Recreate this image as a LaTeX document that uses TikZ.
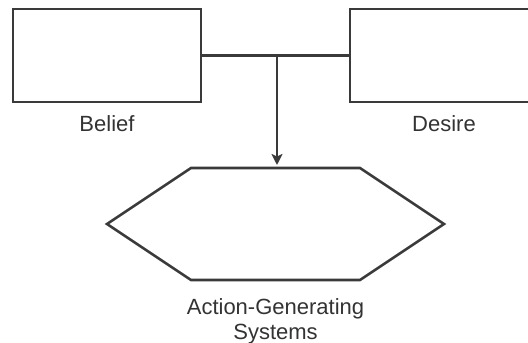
\documentclass[tikz,border=0pt]{standalone}
\usepackage{fontspec}
\setmainfont{Liberation Sans}
\usetikzlibrary{arrows.meta}
\definecolor{ln}{HTML}{3A3A3A}
\definecolor{tx}{HTML}{333333}
\begin{document}
\begin{tikzpicture}[x=1pt,y=-1pt,
  box/.style={draw=ln, line width=2.6pt, fill=white, minimum width=188pt, minimum height=93pt, inner sep=0pt, outer sep=0pt},
  hexa/.style={draw=none, minimum width=337pt, minimum height=112pt, inner sep=0pt, outer sep=0pt},
  lbl/.style={text=tx, font=\fontsize{22}{25}\selectfont, align=center, inner sep=0pt},
  conn/.style={draw=ln, line width=2.6pt},
  arr/.style={conn, -{Stealth[length=11pt, width=11pt, inset=2.5pt]}}]
\useasboundingbox (0,0) rectangle (528,343);
\clip (0,0) rectangle (528,343);
\node[box] (belief) at (107,55.5) {};
\node[box] (desire) at (444,55.5) {};
\node[hexa] (hex) at (275.5,224) {};
\draw[conn, line join=miter] ([xshift=84pt]hex.north west) -- ([xshift=-84pt]hex.north east) -- (hex.east)
  -- ([xshift=-84pt]hex.south east) -- ([xshift=84pt]hex.south west) -- (hex.west) -- cycle;
\node[lbl, anchor=base] (beliefl) at (107,131) {Belief};
\node[lbl, anchor=base] (desirel) at (444,131) {Desire};
\node[lbl, anchor=base] (hexl) at (275.5,339) {Action-Generating\\Systems};
\draw[conn] (belief.east) -- (desire.west);
\coordinate (j) at ([xshift=1.5pt]hex.north |- belief.east);
\draw[arr] (j) -- ([yshift=3pt]j |- hex.north);
\end{tikzpicture}
\end{document}
